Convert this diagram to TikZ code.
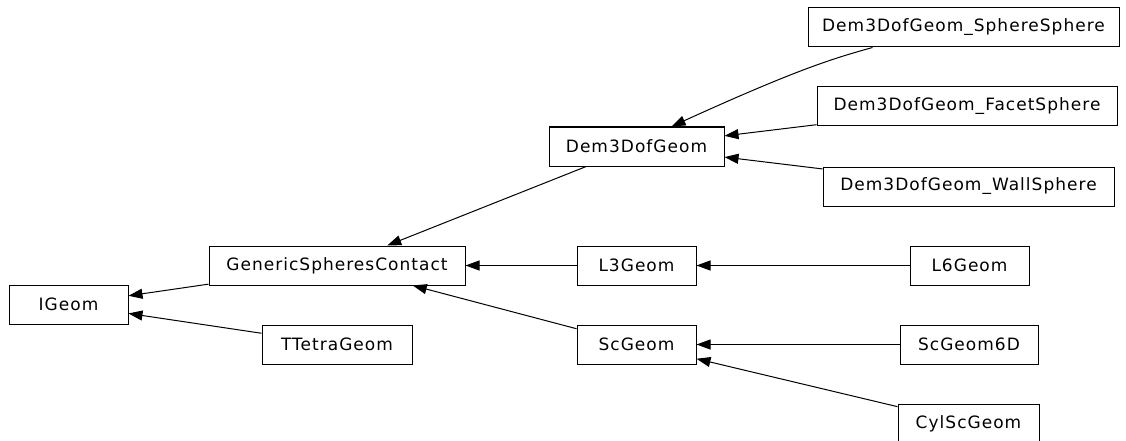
\documentclass[tikz,border=0pt]{standalone}
\usepackage{fontspec}
\setmainfont{DejaVu Sans}
\newfontfamily\nodefont{DejaVu Sans}[LetterSpace=6]
\usetikzlibrary{arrows.meta,calc}
\begin{document}
\begin{tikzpicture}[x=1pt,y=-1pt,
  cls/.style={draw=black,line width=1pt,fill=white,inner sep=0pt,minimum height=39pt,
    font=\nodefont\fontsize{17}{20}\selectfont,anchor=center},
  inh/.style={draw=black,line width=1pt,-{Triangle[length=14pt,width=10pt]}}]
\useasboundingbox (0,0) rectangle (1126,441);
\node[cls,minimum width=311pt] (ss)  at (963.5,27.5)  {Dem3DofGeom\_SphereSphere};
\node[cls,minimum width=300pt] (fs)  at (967,106.5)   {Dem3DofGeom\_FacetSphere};
\node[cls,minimum width=175pt] (d3)  at (636.5,146.5) {Dem3DofGeom};
\node[cls,minimum width=291pt] (ws)  at (968.5,186.5) {Dem3DofGeom\_WallSphere};
\node[cls,minimum width=256pt] (gsc) at (337,265.5)   {GenericSpheresContact};
\node[cls,minimum width=119pt] (l3)  at (636.5,265.5) {L3Geom};
\node[cls,minimum width=119pt] (l6)  at (969.5,265.5) {L6Geom};
\node[cls,minimum width=119pt] (ig)  at (68.5,304.5)  {IGeom};
\node[cls,minimum width=150pt] (tt)  at (337,344.5)   {TTetraGeom};
\node[cls,minimum width=119pt] (sc)  at (636.5,344.5) {ScGeom};
\node[cls,minimum width=138pt] (sc6) at (969,344.5)   {ScGeom6D};
\node[cls,minimum width=141pt] (cyl) at (968.5,423.5) {CylScGeom};

\draw[inh] (gsc) -- (ig);
\draw[inh] (tt) -- (ig);
\draw[inh] (d3) -- (gsc);
\draw[inh] (l3) -- (gsc);
\draw[inh] (sc) -- (gsc);
\draw[inh] ($(ss.south west)+(65,0)$) .. controls (835,58) and (800,68) .. ($(d3.north west)+(123,0)$);
\draw[inh] (fs) -- (d3);
\draw[inh] (ws) -- (d3);
\draw[inh] (l6) -- (l3);
\draw[inh] (sc6) -- (sc);
\draw[inh] (cyl) -- (sc);
\end{tikzpicture}
\end{document}
